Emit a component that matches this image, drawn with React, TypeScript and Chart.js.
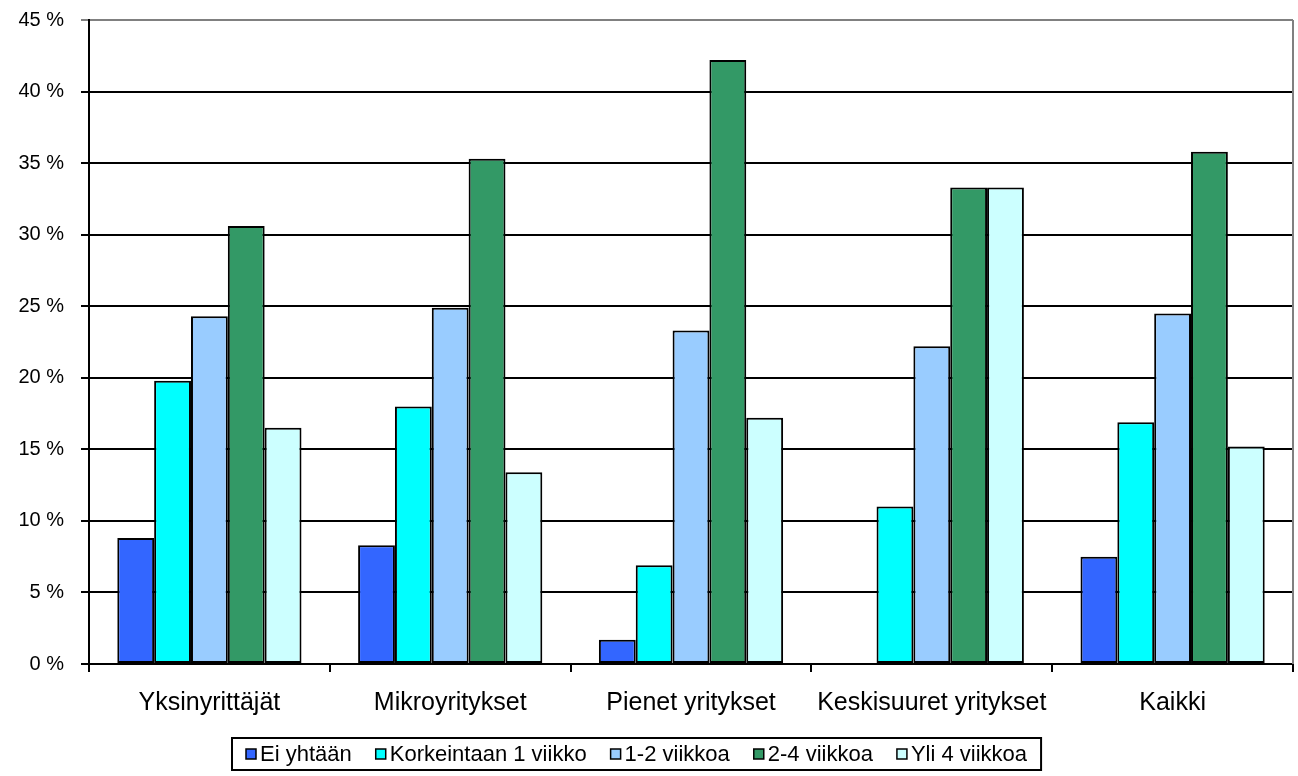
import { useEffect, useRef } from "react";
import { Chart, registerables } from "chart.js";

Chart.register(...registerables);

const categories = ["Yksinyrittäjät", "Mikroyritykset", "Pienet yritykset", "Keskisuuret yritykset", "Kaikki"];
const seriesNames = ["Ei yhtään", "Korkeintaan 1 viikko", "1-2 viikkoa", "2-4 viikkoa", "Yli 4 viikkoa"];
const eiYhtaan = [8.8, 8.3, 1.7, 0, 7.5];
const korkeintaan1 = [19.8, 18.0, 6.9, 11.0, 16.9];
const viikkoa1to2 = [24.3, 24.9, 23.3, 22.2, 24.5];
const viikkoa2to4 = [30.6, 35.3, 42.2, 33.3, 35.8];
const yli4 = [16.5, 13.4, 17.2, 33.3, 15.2];
const seriesColors = ["#3366FF", "#00FFFF", "#99CCFF", "#339966", "#CCFFFF"];
const yMin = 0;
const yMax = 45;
const yStep = 5;

const FONT = '"Liberation Sans", Arial, sans-serif';

const frameAndLegend = {
  id: "frameAndLegend",
  afterDraw(chart: any) {
    const { ctx, chartArea } = chart;
    ctx.save();
    // right border of plot area
    ctx.strokeStyle = "#808080";
    ctx.lineWidth = 2;
    ctx.beginPath();
    ctx.moveTo(chartArea.right, chartArea.top);
    ctx.lineTo(chartArea.right, chartArea.bottom);
    ctx.stroke();

    // legend
    const fontSize = 22;
    ctx.font = `${fontSize}px ${FONT}`;
    const box = 10;
    const gap = 4;
    const itemGap = 24;
    const padX = 14;
    const items = chart.data.datasets.map((d: any) => ({
      label: d.label as string,
      color: d.backgroundColor as string,
      w: box + gap + ctx.measureText(d.label).width,
    }));
    const total = items.reduce((s: number, it: any) => s + it.w, 0) + itemGap * (items.length - 1) + padX * 2;
    const top = 738;
    const h = 32;
    const left = Math.round(637 - total / 2);
    ctx.strokeStyle = "#000";
    ctx.lineWidth = 2;
    ctx.strokeRect(left, top, total, h);
    let x = left + padX;
    const cy = top + h / 2;
    ctx.textBaseline = "middle";
    ctx.textAlign = "left";
    for (const it of items) {
      ctx.fillStyle = it.color;
      ctx.fillRect(x, cy - box / 2, box, box);
      ctx.lineWidth = 1.5;
      ctx.strokeStyle = "#000";
      ctx.strokeRect(x, cy - box / 2, box, box);
      ctx.fillStyle = "#000";
      ctx.fillText(it.label, x + box + gap, cy + 1);
      x += it.w + itemGap;
    }
    ctx.restore();
  },
};

export default function App() {
  const ref = useRef<HTMLCanvasElement | null>(null);

  useEffect(() => {
    document.body.style.margin = "0";
    const canvas = ref.current;
    if (!canvas) return;
    const seriesData = [eiYhtaan, korkeintaan1, viikkoa1to2, viikkoa2to4, yli4];
    const chart = new Chart(canvas, {
      type: "bar",
      data: {
        labels: categories,
        datasets: seriesNames.map((name, i) => ({
          label: name,
          data: seriesData[i],
          backgroundColor: seriesColors[i],
          borderColor: "#000",
          borderWidth: 2,
          borderSkipped: false,
          categoryPercentage: 0.765,
          barPercentage: 1,
        })),
      },
      options: {
        responsive: false,
        animation: false,
        devicePixelRatio: 1,
        layout: { padding: { top: 20, right: 5, bottom: 52, left: 0 } },
        plugins: {
          legend: { display: false },
          tooltip: { enabled: false },
        },
        scales: {
          x: {
            grid: {
              offset: true,
              drawOnChartArea: false,
              drawTicks: true,
              tickLength: 8,
              color: "#000",
              lineWidth: 2,
            },
            border: { display: true, color: "#000", width: 2 },
            ticks: {
              color: "#000",
              font: { family: FONT, size: 25 },
              padding: 16,
              maxRotation: 0,
              autoSkip: false,
            },
            afterFit(scale: any) {
              scale.height = 60;
            },
          },
          y: {
            min: yMin,
            max: yMax,
            grid: {
              color: (c: any) => (c.tick && c.tick.value === yMax ? "#808080" : "#000"),
              lineWidth: 2,
              tickLength: 8,
              drawTicks: true,
            },
            border: { display: true, color: "#000", width: 2 },
            ticks: {
              stepSize: yStep,
              color: "#000",
              font: { family: FONT, size: 20 },
              padding: 17,
              callback: (v: any) => `${v} %`,
            },
            afterFit(scale: any) {
              scale.width = 89;
              scale.paddingTop = 0;
              scale.paddingBottom = 0;
            },
          },
        },
      },
      plugins: [frameAndLegend],
    });
    return () => chart.destroy();
  }, []);

  return (
    <div style={{ width: 1298, height: 776 }}>
      <canvas ref={ref} width={1298} height={776} />
    </div>
  );
}
